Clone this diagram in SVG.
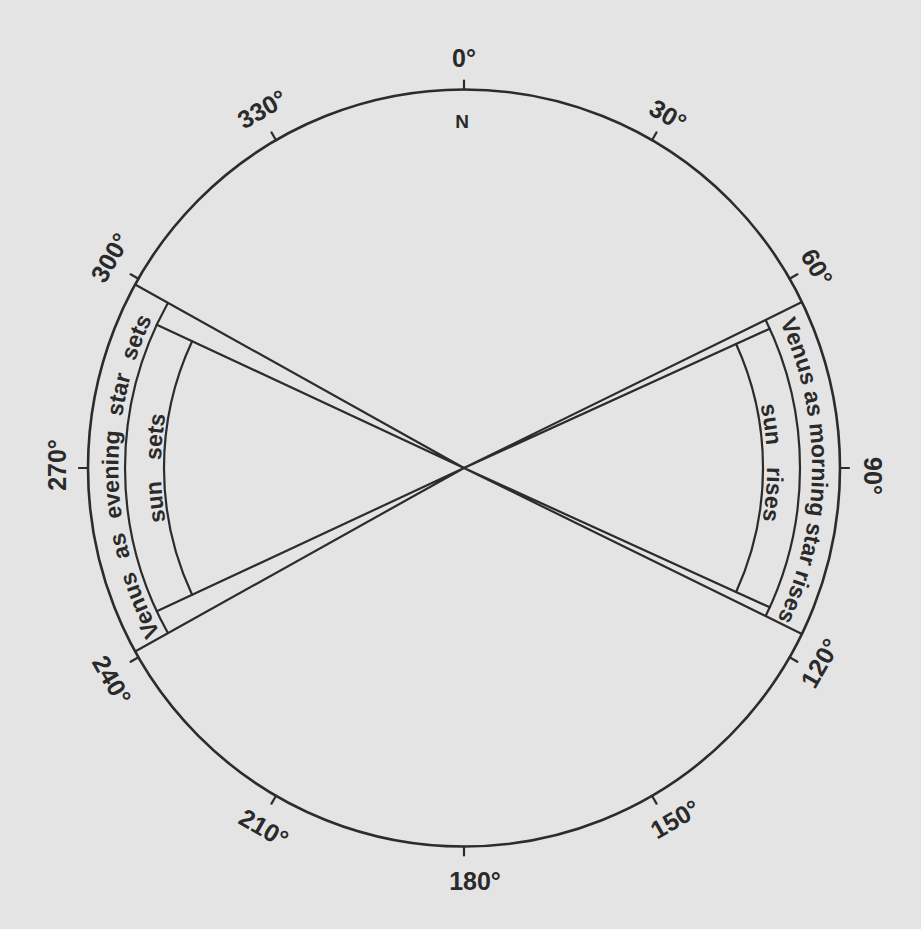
<svg xmlns="http://www.w3.org/2000/svg" width="921" height="929" viewBox="0 0 921 929">
<style>
.bg{fill:#e4e4e4}
.ln{fill:none;stroke:#2c2c2c;stroke-width:2.2;stroke-linecap:round}
.rim{fill:none;stroke:#2c2c2c;stroke-width:2.6}
.deg{font-family:"Liberation Sans",Arial,Helvetica,sans-serif;font-weight:bold;font-size:25px;fill:#2a2a2a;text-anchor:middle}
.band{font-family:"Liberation Sans",Arial,Helvetica,sans-serif;font-weight:bold;font-size:23px;fill:#2a2a2a;text-anchor:middle}
</style>
<defs>
<path id="pLeftOuter" d="M 225.8 719.0 A 347 347 0 0 1 213.0 229.8"/>
<path id="pRightOuter" d="M 712.2 224.1 A 348 348 0 0 1 707.9 716.2"/>
<path id="pLeftInner" d="M 249.7 682.3 A 303 303 0 0 1 249.7 253.7"/>
<path id="pRightInner" d="M 674.5 250.0 A 303 303 0 0 1 681.9 678.5"/>
</defs>
<rect class="bg" x="0" y="0" width="921" height="929"/>

<g id="compass">
<ellipse class="rim" cx="464" cy="468" rx="376" ry="378.5"/>
<g id="ticks">
<path class="ln" d="M464 89.5L464 80.5M652 140.2L656.5 132.4M789.6 278.8L797.4 274.3M840 468L849 468M789.6 657.3L797.4 661.8M652 795.8L656.5 803.6M464 846.5L464 855.5M276 795.8L271.5 803.6M138.4 657.3L130.6 661.8M88 468L79 468M138.4 278.8L130.6 274.3M276 140.2L271.5 132.4"/>
</g>
<g id="labels">
<text class="deg" x="464" y="57.5" dy="0.36em">0°</text>
<text class="deg" transform="translate(668 115) rotate(30)" dy="0.36em">30°</text>
<text class="deg" transform="translate(817 267) rotate(60)" dy="0.36em">60°</text>
<text class="deg" transform="translate(873 476) rotate(90)" dy="0.36em">90°</text>
<text class="deg" transform="translate(820 663) rotate(-60)" dy="0.36em">120°</text>
<text class="deg" transform="translate(675 819) rotate(-30)" dy="0.36em">150°</text>
<text class="deg" x="475" y="881" dy="0.36em">180°</text>
<text class="deg" transform="translate(264 828) rotate(30)" dy="0.36em">210°</text>
<text class="deg" transform="translate(112 680) rotate(60)" dy="0.36em">240°</text>
<text class="deg" transform="translate(57 465) rotate(-90)" dy="0.36em">270°</text>
<text class="deg" transform="translate(110 257.5) rotate(-60)" dy="0.36em">300°</text>
<text class="deg" transform="translate(262 109) rotate(-30)" dy="0.36em">330°</text>
<text class="deg" x="462" y="121" dy="0.36em" style="font-size:19px">N</text>
</g>
</g>

<g id="evening-sector">
<path class="ln" d="M 167.5 632.3 A 339 339 0 0 1 167.5 303.7"/>
<path class="ln" d="M 192.1 594.8 A 300 300 0 0 1 192.1 341.2"/>
<text class="band" style="word-spacing:8px"><textPath href="#pLeftOuter" startOffset="50%">Venus as evening star sets</textPath></text>
<text class="band" style="word-spacing:14px"><textPath href="#pLeftInner" startOffset="50%">sun sets</textPath></text>
</g>

<g id="morning-sector">
<path class="ln" d="M 766.0 320.7 A 336 336 0 0 1 766.0 615.3"/>
<path class="ln" d="M 736.1 344.0 A 299 299 0 0 1 736.1 592.0"/>
<text class="band"><textPath href="#pRightOuter" startOffset="50%">Venus as morning star rises</textPath></text>
<text class="band" style="word-spacing:15px"><textPath href="#pRightInner" startOffset="50%">sun rises</textPath></text>
</g>

<g id="connectors">
<path class="ln" d="M464 468L135.1 284.5M464 468L135.1 651.5M464 468L156.8 324.7M464 468L156.8 611.3"/>
<path class="ln" d="M464 468L801.9 302.1M464 468L801.9 633.9M464 468L769.7 328.7M464 468L769.7 607.3"/>
</g>
</svg>
